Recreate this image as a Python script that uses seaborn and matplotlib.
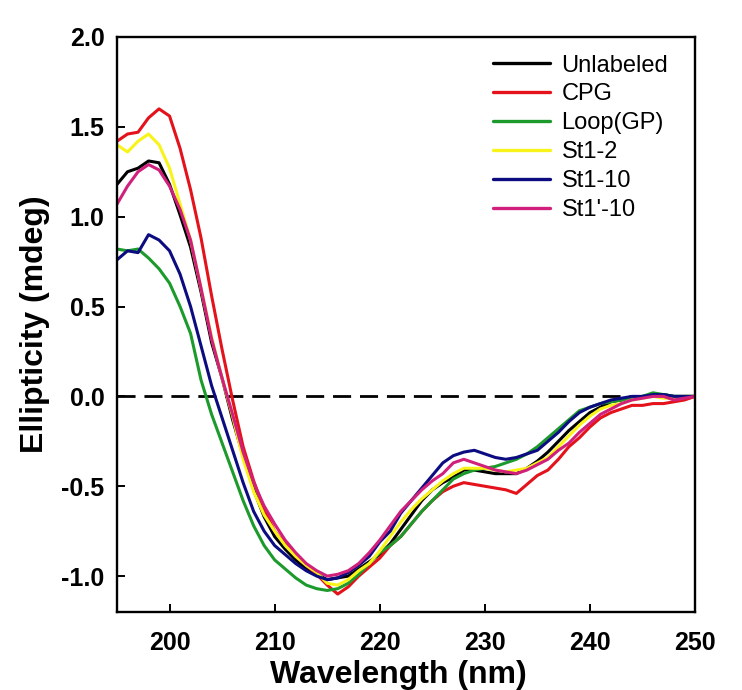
"""
CD spectra of the labelled constructs: ellipticity vs wavelength.
Values are read off the reference picture at 1 nm steps.
"""
import matplotlib
matplotlib.use('Agg')
import matplotlib.pyplot as plt
import numpy as np
import pandas as pd
import seaborn as sns

wavelength = np.arange(195, 251)

unlabeled = [1.18, 1.25, 1.27, 1.31, 1.30, 1.18, 1.01, 0.83, 0.58, 0.30,
             0.10, -0.13, -0.33, -0.52, -0.67, -0.78, -0.85, -0.91, -0.96,
             -0.99, -1.02, -1.01, -1.00, -0.96, -0.92, -0.88, -0.82, -0.74,
             -0.66, -0.58, -0.52, -0.48, -0.45, -0.41, -0.41, -0.42, -0.43,
             -0.43, -0.43, -0.40, -0.36, -0.31, -0.25, -0.19, -0.14, -0.09,
             -0.06, -0.03, -0.02, -0.01, 0.00, 0.01, 0.01, 0.00, 0.00, 0.00]
cpg = [1.42, 1.46, 1.47, 1.55, 1.60, 1.56, 1.38, 1.15, 0.88, 0.56,
       0.26, -0.02, -0.28, -0.47, -0.63, -0.75, -0.82, -0.89, -0.94,
       -0.99, -1.05, -1.10, -1.06, -1.00, -0.95, -0.90, -0.83, -0.78,
       -0.71, -0.64, -0.58, -0.53, -0.50, -0.48, -0.49, -0.50, -0.51,
       -0.52, -0.54, -0.49, -0.44, -0.41, -0.35, -0.28, -0.23, -0.17,
       -0.12, -0.09, -0.07, -0.05, -0.05, -0.04, -0.04, -0.03, -0.02, 0.00]
loop_gp = [0.82, 0.81, 0.82, 0.77, 0.71, 0.63, 0.50, 0.35, 0.09, -0.10,
           -0.26, -0.42, -0.58, -0.72, -0.83, -0.91, -0.96, -1.01, -1.05,
           -1.07, -1.08, -1.07, -1.04, -0.99, -0.93, -0.87, -0.83, -0.78,
           -0.71, -0.64, -0.58, -0.52, -0.46, -0.43, -0.41, -0.40, -0.39,
           -0.37, -0.35, -0.32, -0.28, -0.23, -0.18, -0.13, -0.08, -0.06,
           -0.04, -0.03, -0.02, -0.01, 0.00, 0.02, 0.01, 0.00, 0.00, 0.00]
st1_2 = [1.40, 1.36, 1.42, 1.46, 1.40, 1.27, 1.07, 0.87, 0.60, 0.33,
         0.10, -0.11, -0.35, -0.53, -0.66, -0.75, -0.83, -0.89, -0.94,
         -0.98, -1.04, -1.05, -1.02, -0.97, -0.93, -0.86, -0.78, -0.70,
         -0.63, -0.57, -0.52, -0.47, -0.43, -0.40, -0.40, -0.40, -0.41,
         -0.42, -0.41, -0.40, -0.37, -0.34, -0.28, -0.22, -0.16, -0.11,
         -0.07, -0.05, -0.04, -0.02, -0.01, 0.00, -0.01, -0.01, 0.00, 0.00]
st1_10 = [0.76, 0.81, 0.80, 0.90, 0.87, 0.81, 0.68, 0.50, 0.28, 0.06,
          -0.12, -0.30, -0.48, -0.64, -0.75, -0.83, -0.88, -0.93, -0.97,
          -1.00, -1.02, -1.01, -0.98, -0.94, -0.89, -0.81, -0.75, -0.65,
          -0.58, -0.51, -0.44, -0.37, -0.33, -0.31, -0.30, -0.32, -0.34,
          -0.35, -0.34, -0.32, -0.30, -0.25, -0.20, -0.14, -0.09, -0.06,
          -0.04, -0.02, -0.01, 0.00, 0.00, 0.01, 0.01, 0.00, 0.00, 0.00]
st1p_10 = [1.07, 1.17, 1.25, 1.29, 1.26, 1.17, 1.04, 0.87, 0.60, 0.32,
           0.10, -0.10, -0.31, -0.48, -0.61, -0.71, -0.80, -0.87, -0.93,
           -0.97, -1.00, -0.99, -0.97, -0.93, -0.87, -0.80, -0.72, -0.64,
           -0.58, -0.52, -0.47, -0.43, -0.37, -0.35, -0.37, -0.39, -0.41,
           -0.42, -0.43, -0.41, -0.38, -0.35, -0.30, -0.26, -0.20, -0.15,
           -0.10, -0.07, -0.04, -0.02, -0.01, 0.00, 0.00, -0.02, -0.01, 0.00]

names = ['Unlabeled', 'CPG', 'Loop(GP)', 'St1-2', 'St1-10', "St1'-10"]
colors = ['#000000', '#e3121b', '#1c9a2c', '#f8f41a', '#0c0c80', '#d1207c']


def build_frame():
    """Long-format table for seaborn."""
    series = [unlabeled, cpg, loop_gp, st1_2, st1_10, st1p_10]
    parts = []
    for name, vals in zip(names, series):
        parts.append(pd.DataFrame({'Wavelength': wavelength,
                                   'Ellipticity': vals,
                                   'Sample': name}))
    return pd.concat(parts, ignore_index=True)


def main():
    df = build_frame()
    sns.set_style('ticks')
    plt.rcParams['font.family'] = ['Liberation Sans', 'DejaVu Sans']
    plt.rcParams['axes.unicode_minus'] = False
    plt.rcParams['text.color'] = 'black'
    plt.rcParams['axes.labelcolor'] = 'black'
    plt.rcParams['xtick.color'] = 'black'
    plt.rcParams['ytick.color'] = 'black'
    plt.rcParams['axes.edgecolor'] = 'black'

    fig = plt.figure(figsize=(7.42, 6.9), dpi=100)
    ax = fig.add_axes([0.1577, 0.113, 0.779, 0.8334])

    ax.axhline(0, color='black', lw=2.0, dashes=(6.5, 3.2), zorder=1)
    sns.lineplot(data=df, x='Wavelength', y='Ellipticity', hue='Sample',
                 hue_order=names, palette=colors, lw=2.2, ax=ax,
                 zorder=2)

    ax.set_xlim(195, 250)
    ax.set_ylim(-1.2, 2.0)
    ax.set_xticks([200, 210, 220, 230, 240, 250])
    ax.set_yticks([-1.0, -0.5, 0.0, 0.5, 1.0, 1.5, 2.0])
    ax.set_yticklabels(['-1.0', '-0.5', '0.0', '0.5', '1.0', '1.5', '2.0'])
    ax.tick_params(direction='in', length=6, width=1.4, labelsize=18)
    ax.tick_params(axis='x', pad=14)
    ax.tick_params(axis='y', pad=9)
    for lab in ax.get_xticklabels() + ax.get_yticklabels():
        lab.set_fontweight('bold')
    for sp in ax.spines.values():
        sp.set_linewidth(1.7)
        sp.set_visible(True)

    ax.set_xlabel('Wavelength (nm)', fontsize=23, fontweight='bold')
    ax.xaxis.set_label_coords(0.486, -0.083, transform=ax.transAxes)
    ax.xaxis.label.set_verticalalignment('top')
    ax.set_ylabel('Ellipticity (mdeg)', fontsize=23, fontweight='bold',
                  labelpad=8)

    handles, labels = ax.get_legend_handles_labels()
    ax.legend(handles, labels, loc='upper left',
              bbox_to_anchor=(0.63, 0.99), frameon=False, fontsize=17,
              handlelength=2.4, handletextpad=0.5, labelspacing=0.29,
              borderpad=0)
    for line in ax.get_legend().get_lines():
        line.set_linewidth(2.4)

    fig.savefig('out.png', dpi=100)


if __name__ == '__main__':
    main()
